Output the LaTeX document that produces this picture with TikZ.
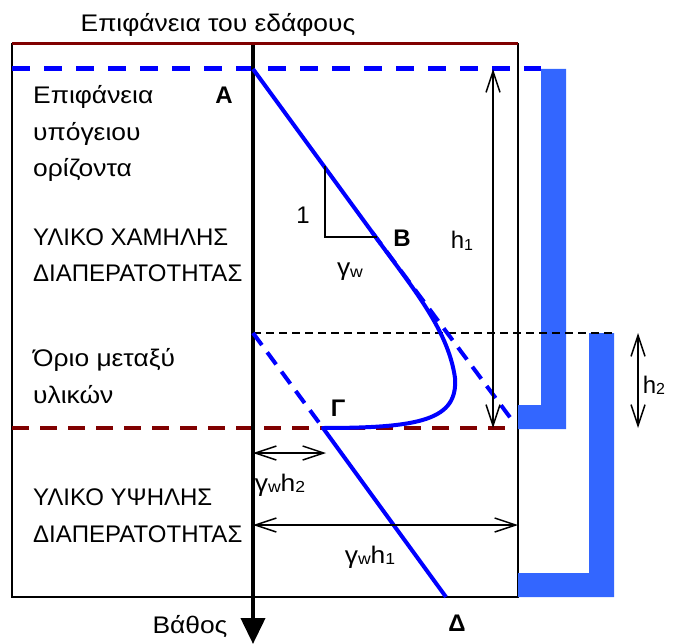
\documentclass[tikz,border=0pt]{standalone}
\usepackage{fontspec}
\setmainfont{Liberation Sans}
\newfontfamily\breit[FakeStretch=1.1]{Liberation Sans}
\usetikzlibrary{arrows.meta}
\definecolor{ydor}{HTML}{0000FF}
\definecolor{soler}{HTML}{3366FF}
\definecolor{bordo}{HTML}{800000}
\newcommand{\idx}[1]{\raisebox{-1.5pt}{\fontsize{16}{16}\selectfont #1}}

\begin{document}
\begin{tikzpicture}[
    x=1pt, y=-1pt,
    every node/.style={font=\fontsize{24}{36.5}\selectfont, inner sep=0pt},
    pfeil/.style={line width=1.5pt,
      {Straight Barb[length=21pt,width=14pt]}-{Straight Barb[length=21pt,width=14pt]}},
    etik/.style={anchor=base},
    links/.style={anchor=base west, align=left},
    mikra/.style={font=\breit\fontsize{24}{36.5}\selectfont},
    kefal/.style={etik, font=\fontsize{24}{28}\selectfont\bfseries},
  ]
  \useasboundingbox (0,0) rectangle (677,644);

  % Πλαίσιο
  \draw[line width=1.5pt] (12,44) rectangle (518,597);
  \draw[line width=3pt, bordo] (12,44) -- (518,44);

  % Πιεζόμετρα
  \fill[soler] (541,69) -- (566,69) -- (566,429) -- (518,429) -- (518,405) -- (541,405) -- cycle;
  \fill[soler] (589,333) -- (614,333) -- (614,597) -- (518,597) -- (518,573) -- (589,573) -- cycle;

  % Στάθμες
  \draw[ydor, line width=5pt, dash pattern=on 18pt off 14pt] (12,69) -- (541,69);
  \draw[line width=1.5pt, dash pattern=on 8pt off 5pt] (253,333) -- (614,333);
  \draw[bordo, line width=4pt, dash pattern=on 17pt off 11pt] (12,428) -- (505,428);

  \coordinate (A) at (253,69);
  \coordinate (Bkn) at (372,232);
  \coordinate (Bend) at (512,420);
  \coordinate (O) at (253,333);
  \coordinate (G) at (323,428);
  \coordinate (D) at (446,597);

  % Άξονας βάθους
  \draw[line width=4pt, -{Triangle[length=26pt,width=24pt]}] (253,45) -- (253,644);

  % Πίεση πόρων
  \draw[ydor, line width=4pt, dash pattern=on 15pt off 9pt] (Bkn) -- (Bend);
  \draw[ydor, line width=4pt, dash pattern=on 15pt off 9pt] (O) -- (G);
  \draw[ydor, line width=4pt, line join=round]
    (A) -- (Bkn) .. controls (410,285) and (448,328) .. (455,378)
    .. controls (458,420) and (420,428) .. (G) -- (D);

  % Τρίγωνο κλίσης
  \draw[line width=1.5pt] (325,166) -- (325,237) -- (377,237);

  % Βέλη
  \coordinate (h1o) at (493,69);
  \coordinate (h1u) at (493,428);
  \coordinate (h2o) at (638,333);
  \coordinate (h2u) at (638,428);
  \coordinate (g2l) at (253,453);
  \coordinate (g2r) at (326,453);
  \coordinate (g1l) at (253,525);
  \coordinate (g1r) at (518,525);
  \draw[pfeil] (h1o) -- (h1u);
  \draw[pfeil] (h2o) -- (h2u);
  \draw[pfeil] (g2l) -- (g2r);
  \draw[pfeil] (g1l) -- (g1r);

  % Κείμενα (base = τελευταία γραμμή)
  \node[etik, mikra] (titlos) at (218,32) {Επιφάνεια του εδάφους};
  \node[links, mikra] (ypog) at (33,177) {Επιφάνεια\\υπόγειου\\ορίζοντα};
  \node[links] (xamili) at (33,282) {ΥΛΙΚΟ ΧΑΜΗΛΗΣ\\ΔΙΑΠΕΡΑΤΟΤΗΤΑΣ};
  \node[links, mikra] (orio) at (33,403) {Όριο μεταξύ\\υλικών};
  \node[links] (ypsili) at (33,542) {ΥΛΙΚΟ ΥΨΗΛΗΣ\\ΔΙΑΠΕΡΑΤΟΤΗΤΑΣ};
  \node[etik, mikra] (bathos) at (190,633) {Βάθος};

  \node[kefal] (lA) at (224,104) {Α};
  \node[kefal] (lB) at (402,247) {Β};
  \node[kefal] (lG) at (338,416) {Γ};
  \node[kefal] (lD) at (457,631) {Δ};

  \node[etik] (ena) at (303,224) {1};
  \node[etik, mikra] (gw) at (350,276) {γ\idx{w}};
  \node[etik] (h1) at (462,249) {h\idx{1}};
  \node[etik] (h2) at (654,393) {h\idx{2}};
  \node[etik, mikra] (gwh2) at (280,491) {γ\idx{w}h\idx{2}};
  \node[etik, mikra] (gwh1) at (370,563) {γ\idx{w}h\idx{1}};
\end{tikzpicture}
\end{document}
